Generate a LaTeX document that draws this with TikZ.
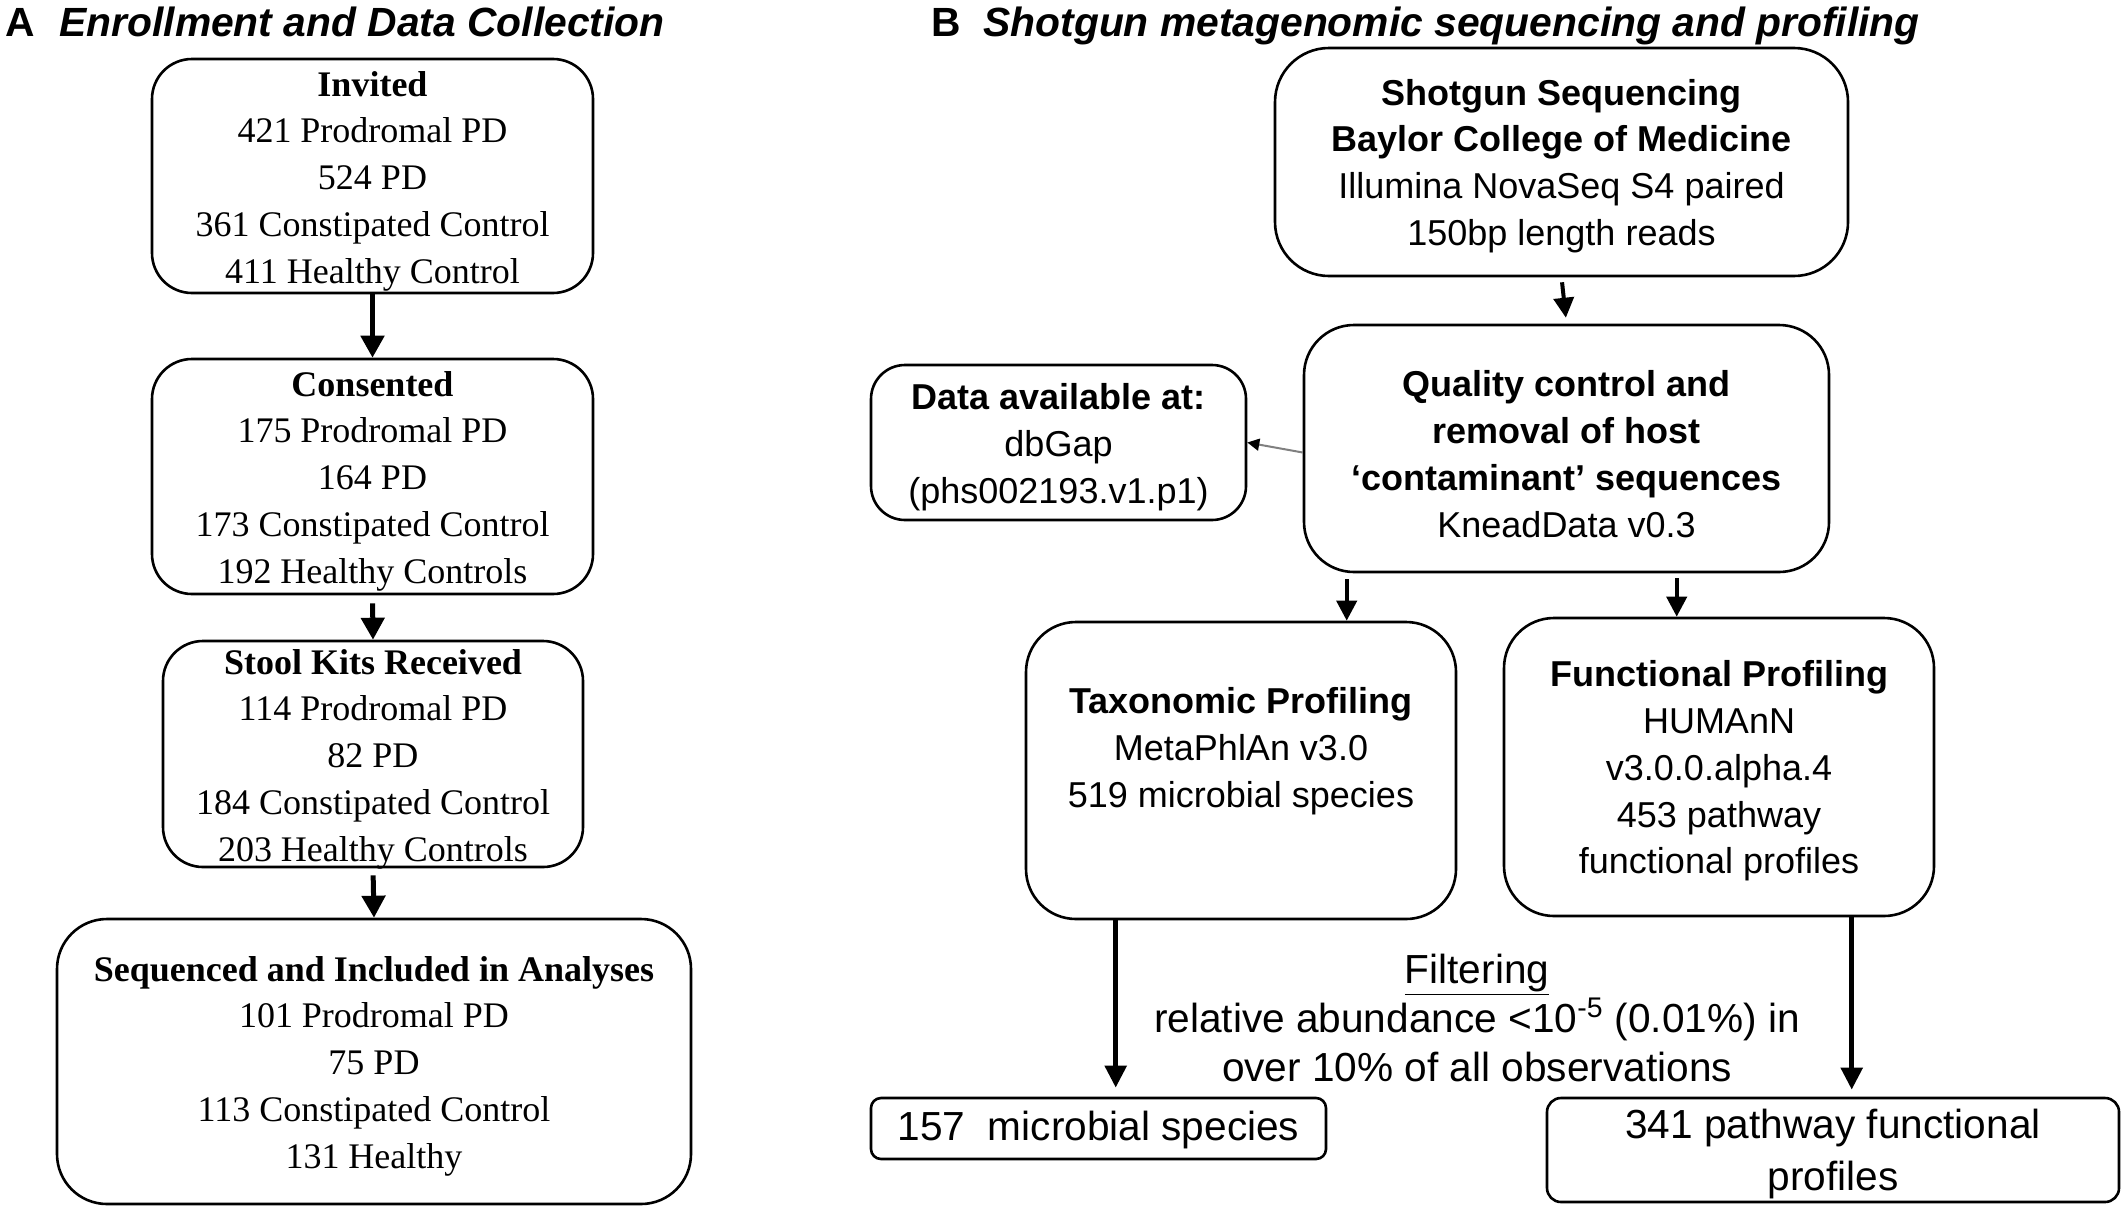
\documentclass[tikz,border=0pt]{standalone}
\usepackage{fontspec}
\setmainfont{Liberation Serif}
\newfontfamily\arialf{Liberation Sans}
\usetikzlibrary{arrows.meta}
\begin{document}
\begin{tikzpicture}[x=0.5pt,y=-0.5pt,
  box/.style={draw, line width=1.3pt, rounded corners=#1, inner sep=0pt},
  serift/.style={align=center, inner sep=0pt, font=\fontsize{18pt}{23.35pt}\selectfont},
  sanst/.style={align=center, inner sep=0pt, font=\arialf\fontsize{18pt}{23.4pt}\selectfont},
  sansbig/.style={align=center, inner sep=0pt, font=\arialf\fontsize{20.3pt}{25pt}\selectfont},
  titlef/.style={anchor=base west, inner sep=0pt, font=\arialf\fontsize{20.4pt}{24pt}\selectfont\bfseries},
  arrA/.style={line width=2.5pt, -{Triangle[length=11pt,width=11.5pt]}},
  arrB/.style={line width=2pt, -{Triangle[length=10pt,width=10pt]}},
  arrL/.style={line width=2.6pt, -{Triangle[length=11pt,width=10.5pt]}},
  arrG/.style={line width=1pt, draw=gray, -{Triangle[length=6pt,width=6pt,fill=black,color=black]}}
]
\fill[white] (0,0) rectangle (2128,1210);
\useasboundingbox (0,0) rectangle (2128,1210);

% titles
\node[titlef] (tA) at (5,36) {A};
\node[titlef] (tAt) at (59,36) {\itshape Enrollment and Data Collection};
\node[titlef] (tB) at (931,36) {B};
\node[titlef] (tBt) at (983,36) {\itshape Shotgun metagenomic sequencing and profiling};

% panel A boxes
\node[box=20pt, minimum width=220.5pt, minimum height=117pt] (inv) at (372.5,176) {};
\node[box=20pt, minimum width=220.5pt, minimum height=117.5pt] (cons) at (372.5,476.5) {};
\node[box=20pt, minimum width=210pt, minimum height=113pt] (stool) at (373,754) {};
\node[box=25pt, minimum width=317pt, minimum height=142.5pt] (seq) at (374,1061.5) {};

\node[serift] (invt) at (372.5,181) {\textbf{Invited}\\421 Prodromal PD\\524 PD\\361 Constipated Control\\411 Healthy Control};
\node[serift] (const) at (372.5,481) {\textbf{Consented}\\175 Prodromal PD\\164 PD\\173 Constipated Control\\192 Healthy Controls};
\node[serift] (stoolt) at (373,759) {\textbf{Stool Kits Received}\\114 Prodromal PD\\82 PD\\184 Constipated Control\\203 Healthy Controls};
\node[serift] (seqt) at (374,1066) {\textbf{Sequenced and Included in Analyses}\\101 Prodromal PD\\75 PD\\113 Constipated Control\\131 Healthy};

\draw[arrA] (inv.south) -- (cons.north);
\draw[arrA, shorten <=4pt] (cons.south) -- (stool.north);
\draw[arrA, shorten <=3.5pt] (stool.south) -- (seq.north);

% panel B boxes
\node[box=27pt, minimum width=286.5pt, minimum height=114pt] (shot) at (1561.5,162) {};
\node[box=25pt, minimum width=262.5pt, minimum height=123.5pt] (qual) at (1566.5,448.5) {};
\node[box=17pt, minimum width=187.5pt, minimum height=77.5pt] (data) at (1058.5,442.5) {};
\node[box=25pt, minimum width=215pt, minimum height=148.5pt] (tax) at (1241,770.5) {};
\node[box=25pt, minimum width=215pt, minimum height=149pt] (func) at (1719,767) {};
\node[box=5pt, minimum width=227.5pt, minimum height=30.5pt] (spec) at (1098.5,1128.5) {};
\node[box=7pt, minimum width=286pt, minimum height=52pt] (path) at (1833,1150) {};

\node[sanst] (shott) at (1561.5,166) {\textbf{Shotgun Sequencing}\\\textbf{Baylor College of Medicine}\\Illumina NovaSeq S4 paired\\150bp length reads};
\node[sanst] (qualt) at (1566.5,454) {\textbf{Quality control and}\\\textbf{removal of host}\\\textbf{‘contaminant’ sequences}\\KneadData v0.3};
\node[sanst] (datat) at (1058.5,447) {\textbf{Data available at:}\\dbGap\\(phs002193.v1.p1)};
\node[sanst] (taxt) at (1241,751) {\textbf{Taxonomic Profiling}\\MetaPhlAn v3.0\\519 microbial species};
\node[sanst] (funct) at (1719,771) {\textbf{Functional Profiling}\\HUMAnN\\v3.0.0.alpha.4\\453 pathway\\functional profiles};
\node[sansbig] (spect) at (1098.5,1130) {157\ \ microbial species};
\node[sansbig, font=\arialf\fontsize{20.3pt}{26pt}\selectfont] (patht) at (1833,1154) {341 pathway functional\\profiles};
\node[sansbig, font=\arialf\fontsize{20.3pt}{24.5pt}\selectfont] (filt) at (1477,1018) {\underline{Filtering}\\relative abundance <10\textsuperscript{-5} (0.01\%) in\\over 10\% of all observations};

% panel B arrows
\draw[arrB, shorten <=2.5pt, shorten >=3pt] (shot.south) -- (qual.north);
\draw[arrB, shorten <=3pt] ([xshift=22pt]qual.south west) -- ([xshift=161pt]tax.north west);
\draw[arrB, shorten <=2.5pt] ([xshift=187pt]qual.south west) -- ([xshift=87pt]func.north west);
\draw[arrG] ([yshift=-2pt]qual.west) -- (data.east);
\draw[arrL, shorten >=4.5pt] ([xshift=45.5pt]tax.south west) -- ([xshift=123pt]spec.north west);
\draw[arrL, shorten >=3.5pt] ([xshift=174.5pt]func.south west) -- ([xshift=153pt]path.north west);
\end{tikzpicture}
\end{document}
